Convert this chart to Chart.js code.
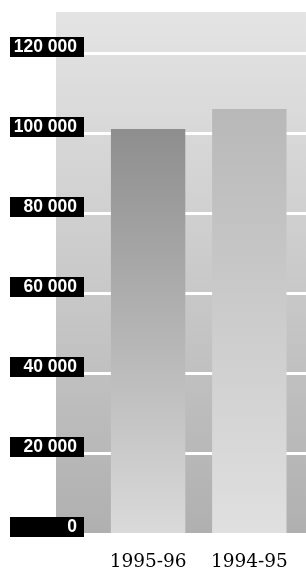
<!doctype html>
<html lang="en">
  <head>
    <meta charset="utf-8">
    <title>Bar chart</title>
    <style>
      * { margin: 0; padding: 0; }
      body { background: #fff; }
      .chartBox { width: 306px; height: 572px; }
    </style>
  </head>
  <body>
    <div class="chartBox">
      <canvas id="myChart"></canvas>
    </div>
    <script src="https://cdn.jsdelivr.net/npm/chart.js/dist/chart.umd.min.js"></script>
    <script>
// data
const years = ['1995-96', '1994-95'];
const values = [101000, 106000];
const tickValues = [0, 20000, 40000, 60000, 80000, 100000, 120000];
const tickLabels = ['0', '20 000', '40 000', '60 000', '80 000', '100 000', '120 000'];

// bar colours top -> bottom
const barTop = ['#8e8e8e', '#b8b8b8'];
const barBottom = ['#dadada', '#e0e0e0'];

// background, white grid lines and black tick boxes
const panelPlugin = {
  id: 'panel',
  beforeDraw(chart) {
    const ctx = chart.ctx;
    const y = chart.scales.y;
    const top = y.getPixelForValue(y.max) - 1;
    const bottom = y.getPixelForValue(0);
    const bg = ctx.createLinearGradient(0, top, 0, bottom);
    bg.addColorStop(0, '#e4e4e4');
    bg.addColorStop(1, '#b0b0b0');
    ctx.save();
    ctx.fillStyle = bg;
    ctx.fillRect(56, top, chart.width - 56, bottom - top);

    ctx.strokeStyle = '#ffffff';
    ctx.lineWidth = 3;
    tickValues.forEach(v => {
      if (v === 0) return;
      const py = Math.round(y.getPixelForValue(v)) + 0.5;
      ctx.beginPath();
      ctx.moveTo(84, py);
      ctx.lineTo(chart.width, py);
      ctx.stroke();
    });

    ctx.font = 'bold 17.5px "Liberation Sans", Arial, sans-serif';
    ctx.textAlign = 'right';
    ctx.textBaseline = 'alphabetic';
    tickValues.forEach((v, i) => {
      const py = y.getPixelForValue(v);
      ctx.fillStyle = '#000000';
      ctx.fillRect(10, py - 16, 74, 20);
      ctx.fillStyle = '#ffffff';
      ctx.fillText(tickLabels[i], 77, py - 1);
    });
    ctx.restore();
  }
};

const data = {
  labels: years,
  datasets: [{
    data: values,
    backgroundColor: function (context) {
      const chart = context.chart;
      const y = chart.scales.y;
      if (!chart.chartArea || !y) return barTop[context.dataIndex];
      const v = context.raw;
      const g = chart.ctx.createLinearGradient(0, y.getPixelForValue(v), 0, y.getPixelForValue(0));
      g.addColorStop(0, barTop[context.dataIndex]);
      g.addColorStop(1, barBottom[context.dataIndex]);
      return g;
    },
    borderWidth: 0,
    barPercentage: 0.735,
    categoryPercentage: 1
  }]
};

const config = {
  type: 'bar',
  data,
  plugins: [panelPlugin],
  options: {
    responsive: true,
    maintainAspectRatio: false,
    animation: false,
    layout: {
      padding: { left: 97.5, right: 1, top: 13, bottom: 0 }
    },
    plugins: {
      legend: { display: false },
      tooltip: { enabled: false }
    },
    scales: {
      x: {
        grid: { display: false, drawTicks: false },
        border: { display: false },
        afterFit: axis => { axis.height = 39; },
        ticks: {
          color: '#000000',
          padding: 18,
          font: { family: '"DejaVu Serif", serif', size: 18.5 }
        }
      },
      y: {
        display: false,
        min: 0,
        max: 130000,
        afterBuildTicks: axis => {
          axis.ticks = tickValues.map(v => ({ value: v }));
        }
      }
    }
  }
};

const myChart = new Chart(document.getElementById('myChart'), config);
    </script>
  </body>
</html>
